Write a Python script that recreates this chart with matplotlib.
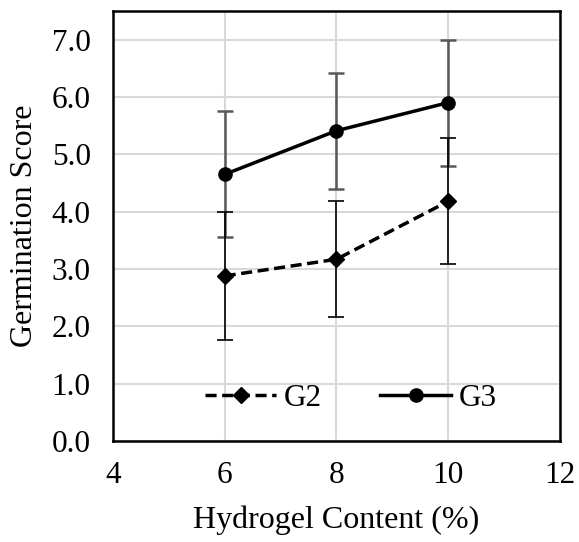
import matplotlib
matplotlib.use("Agg")
import matplotlib.pyplot as plt

hydrogel = [6, 8, 10]
g2 = [2.88, 3.17, 4.18]
g2_err = [1.11, 1.01, 1.10]
g3 = [4.65, 5.41, 5.90]
g3_err = [1.10, 1.01, 1.10]

x_ticks = [4, 6, 8, 10, 12]
y_ticks = [0, 1, 2, 3, 4, 5, 6, 7]

plt.rcParams['font.family'] = ['Liberation Serif', 'DejaVu Serif']

fig = plt.figure(figsize=(5.79, 5.42), dpi=100)
ax = fig.add_axes([0.195, 0.186, 0.772, 0.794])

ax.errorbar(hydrogel, g3, yerr=g3_err, fmt='none', ecolor='#595959',
            elinewidth=1.8, capsize=6, capthick=1.8, zorder=3)
ax.errorbar(hydrogel, g2, yerr=g2_err, fmt='none', ecolor='black',
            elinewidth=1.2, capsize=6, capthick=1.2, zorder=3)
ax.plot(hydrogel, g2, color='black', linestyle=(0, (3.2, 1.6)), linewidth=2.5,
        marker='D', markersize=8, label='G2', zorder=4)
ax.plot(hydrogel, g3, color='black', linestyle='-', linewidth=2.5,
        marker='o', markersize=9.5, label='G3', zorder=4)

ax.set_xlim(4, 12)
ax.set_ylim(0, 7.5)
ax.set_xticks(x_ticks)
ax.set_xticklabels([str(v) for v in x_ticks])
ax.set_yticks(y_ticks)
ax.set_yticklabels([f"{v:.1f}" for v in y_ticks])
ax.tick_params(axis='y', length=0, labelsize=22.5, pad=16)
ax.tick_params(axis='x', length=0, labelsize=22.5, pad=14)
ax.grid(True, color='#d9d9d9', linewidth=1.5, zorder=0)
ax.set_axisbelow(True)
for s in ax.spines.values():
    s.set_linewidth(1.8)
    s.set_color('black')

ax.set_xlabel('Hydrogel Content (%)', fontsize=23)
ax.set_ylabel('Germination Score', fontsize=23)
ax.xaxis.set_label_coords(0.5, -0.184)
ax.yaxis.set_label_coords(-0.197, 0.5)
ax.xaxis.label.set_va('center')
ax.yaxis.label.set_va('center')

ax.legend(loc='center', bbox_to_anchor=(0.532, 0.1), ncol=2, frameon=False,
          fontsize=22.5, handlelength=2.3, columnspacing=1.85, handletextpad=0.23,
          borderpad=0.2)

fig.savefig('out.png', dpi=100)
